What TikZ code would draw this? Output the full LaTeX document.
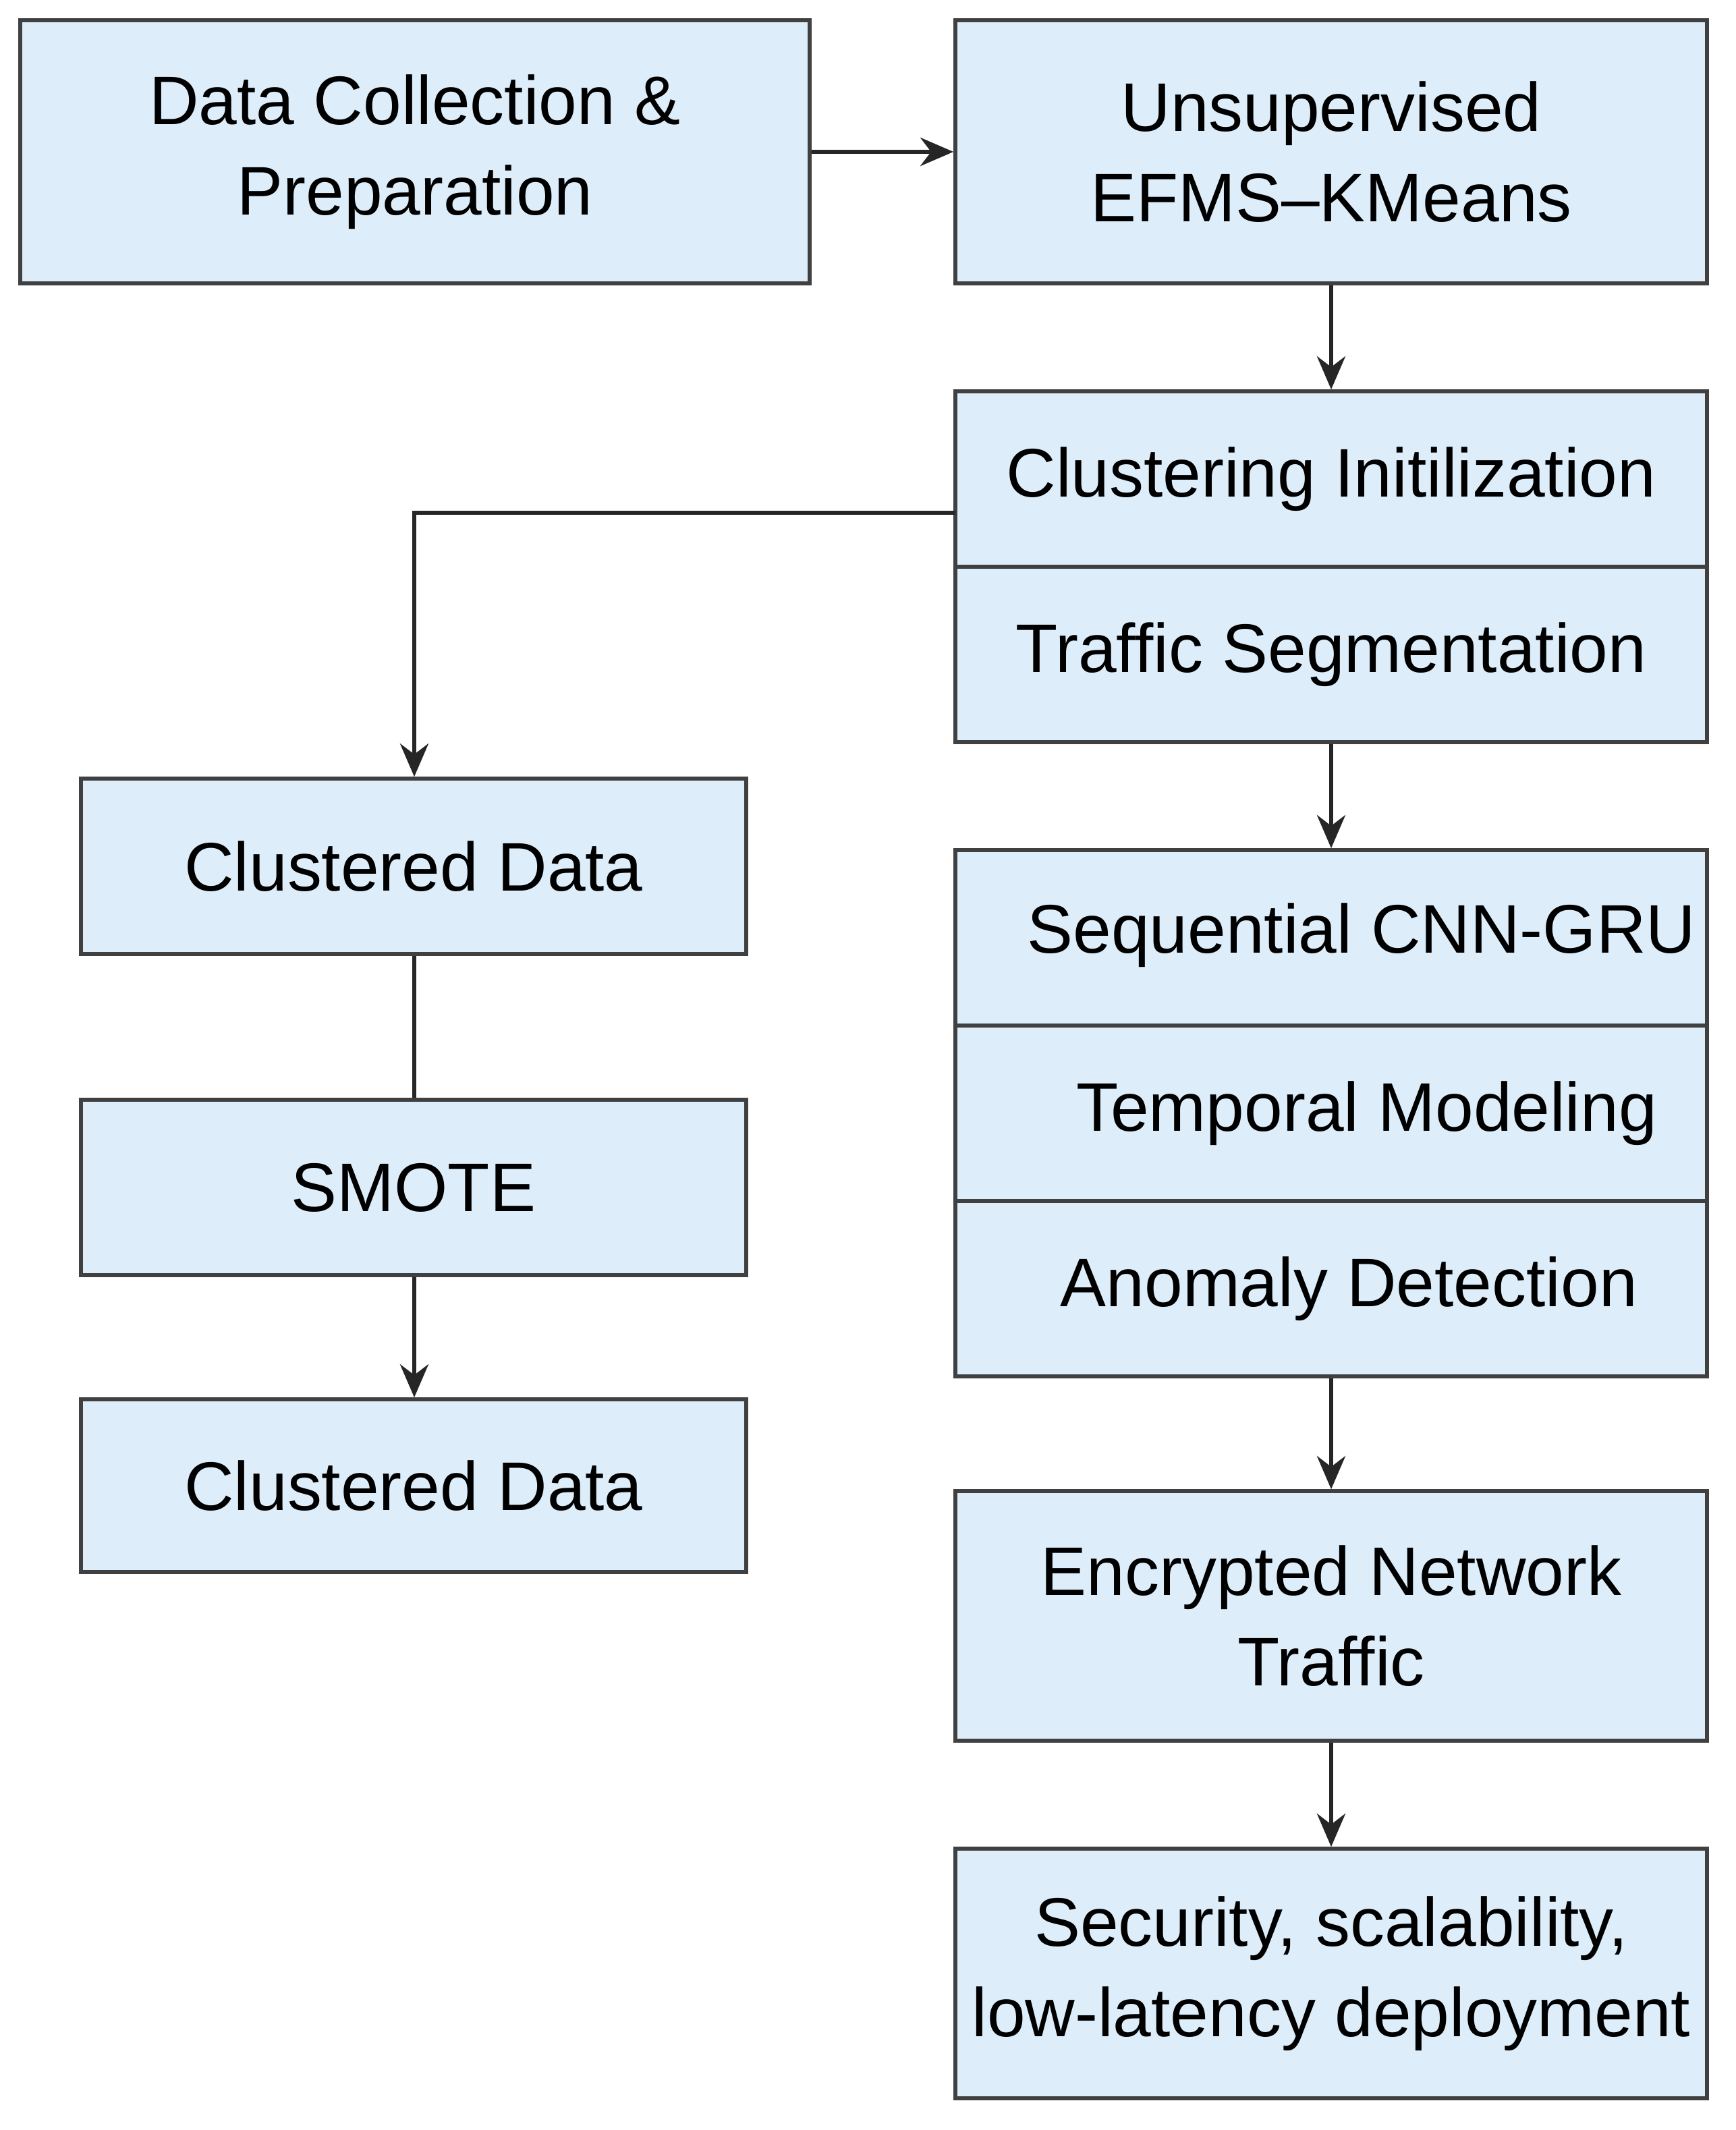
\documentclass[tikz,border=0pt]{standalone}
\usepackage{fontspec}
\setmainfont{Liberation Sans}
\usetikzlibrary{arrows.meta}
\definecolor{boxfill}{HTML}{DDEEFA}
\begin{document}
\begin{tikzpicture}[x=0.02cm,y=-0.02cm,
  box/.style={draw=black!75,line width=1.6pt,fill=boxfill,inner sep=0pt,align=center,font=\fontsize{29}{38}\selectfont},
  arr/.style={-{Stealth[length=14pt,width=12pt]},line width=1.6pt,draw=black!85},
  ln/.style={line width=1.6pt,draw=black!85}]
\useasboundingbox (0,0) rectangle (1286,1578.5);
\newcommand{\mybox}[6]{\node[box,minimum width={(#4-#2)*0.02cm},minimum height={(#5-#3)*0.02cm}] (#1) at ({(#2+#4)/2},{(#3+#5)/2}) {#6};}
\mybox{dc}{15}{15}{600}{210}{Data Collection \&\\Preparation}
\mybox{ue}{708}{15}{1265}{210}{Unsupervised\\EFMS--KMeans}
\mybox{ci}{708}{290}{1265}{420}{Clustering Initilization}
\mybox{ts}{708}{420}{1265}{550}{Traffic Segmentation}
\mybox{cd1}{60}{577}{553}{707}{Clustered Data}
\mybox{sm}{60}{815}{553}{945}{SMOTE}
\mybox{cd2}{60}{1037}{553}{1165}{Clustered Data}
\mybox{sq}{708}{630}{1265}{760}{}
\node[font=\fontsize{29}{38}\selectfont,anchor=west] (sqt) at (755,693) {Sequential CNN-GRU};
\mybox{tm}{708}{760}{1265}{890}{\hspace{30pt}Temporal Modeling}
\mybox{an}{708}{890}{1265}{1020}{\hspace{15pt}Anomaly Detection}
\mybox{en}{708}{1105}{1265}{1290}{Encrypted Network\\Traffic}
\mybox{se}{708}{1370}{1265}{1555}{Security, scalability,\\low-latency deployment}
\coordinate (cil) at (708,380);
\coordinate (bend) at (307,380);
\draw[arr] (dc.east) -- (ue.west);
\draw[arr] (ue.south) -- (ci.north);
\draw[arr] (cil) -- (bend) -- (cd1.north-|bend);
\draw[ln] (cd1.south-|bend) -- (sm.north-|bend);
\draw[arr] (sm.south-|bend) -- (cd2.north-|bend);
\draw[arr] (ts.south) -- (sq.north);
\draw[arr] (an.south) -- (en.north);
\draw[arr] (en.south) -- (se.north);
\end{tikzpicture}
\end{document}
